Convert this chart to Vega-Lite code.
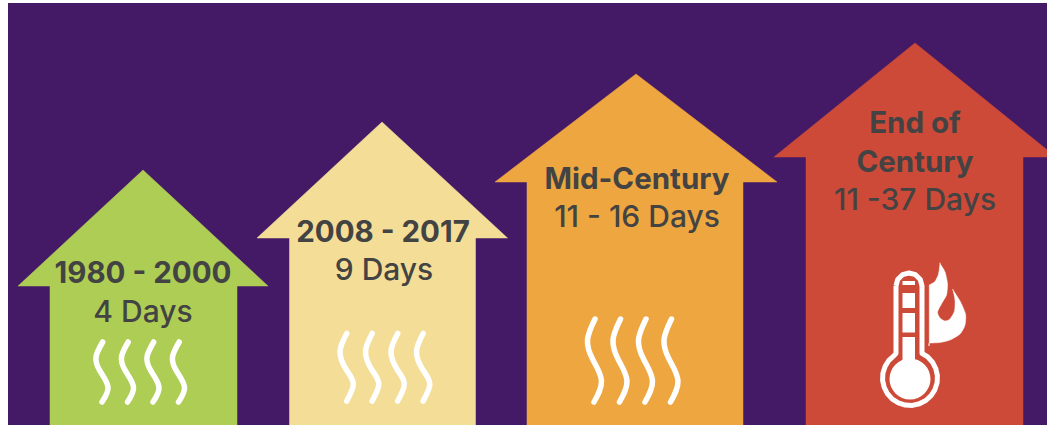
{
"$schema":"https://vega.github.io/schema/vega-lite/v6.json",
"width":1047,"height":425,"autosize":{"type":"none"},"padding":0,"background":"#ffffff",
"view":{"stroke":null},
"config":{"axis":{"disable":true}},
"encoding":{"x":{"type":"quantitative","scale":{"domain":[0,1047],"nice":false,"zero":false},"axis":null},
"y":{"type":"quantitative","scale":{"domain":[425,0],"nice":false,"zero":false},"axis":null}},
"layer":[
{"data":{"values":[{"x":8,"x2":1047,"y":3,"y2":425}]},"mark":{"type":"rect","color":"#441a66"},
 "encoding":{"x":{"field":"x","type":"quantitative"},"x2":{"field":"x2"},"y":{"field":"y","type":"quantitative"},"y2":{"field":"y2"}}},
{"data":{"values":[
{"a":"1980 - 2000","i":1,"x":18,"y":286},{"a":"1980 - 2000","i":2,"x":143,"y":170},{"a":"1980 - 2000","i":3,"x":268,"y":286},{"a":"1980 - 2000","i":4,"x":237,"y":286},{"a":"1980 - 2000","i":5,"x":237,"y":425},{"a":"1980 - 2000","i":6,"x":50,"y":425},{"a":"1980 - 2000","i":7,"x":50,"y":286},{"a":"1980 - 2000","i":8,"x":18,"y":286},
{"a":"2008 - 2017","i":1,"x":257,"y":238},{"a":"2008 - 2017","i":2,"x":382,"y":122},{"a":"2008 - 2017","i":3,"x":507.5,"y":238},{"a":"2008 - 2017","i":4,"x":475.5,"y":238},{"a":"2008 - 2017","i":5,"x":475.5,"y":425},{"a":"2008 - 2017","i":6,"x":289.5,"y":425},{"a":"2008 - 2017","i":7,"x":289.5,"y":238},{"a":"2008 - 2017","i":8,"x":257,"y":238},
{"a":"Mid-Century","i":1,"x":495,"y":182},{"a":"Mid-Century","i":2,"x":636,"y":74},{"a":"Mid-Century","i":3,"x":777,"y":182},{"a":"Mid-Century","i":4,"x":743,"y":182},{"a":"Mid-Century","i":5,"x":743,"y":425},{"a":"Mid-Century","i":6,"x":527,"y":425},{"a":"Mid-Century","i":7,"x":527,"y":182},{"a":"Mid-Century","i":8,"x":495,"y":182},
{"a":"End of Century","i":1,"x":774,"y":157},{"a":"End of Century","i":2,"x":915,"y":43},{"a":"End of Century","i":3,"x":1047,"y":149.8},{"a":"End of Century","i":4,"x":1047,"y":157},{"a":"End of Century","i":5,"x":1023,"y":157},{"a":"End of Century","i":6,"x":1023,"y":425},{"a":"End of Century","i":7,"x":806,"y":425},{"a":"End of Century","i":8,"x":806,"y":157},{"a":"End of Century","i":9,"x":774,"y":157}
]},"mark":{"type":"line","interpolate":"linear","strokeWidth":0.5},
 "encoding":{"x":{"field":"x","type":"quantitative"},"y":{"field":"y","type":"quantitative"},"order":{"field":"i","type":"quantitative"},
 "stroke":{"field":"a","type":"nominal","legend":null,"scale":{"domain":["1980 - 2000","2008 - 2017","Mid-Century","End of Century"],"range":["#aecd55","#f4de97","#eea640","#cd4a38"]}},
 "fill":{"field":"a","type":"nominal","legend":null,"scale":{"domain":["1980 - 2000","2008 - 2017","Mid-Century","End of Century"],"range":["#aecd55","#f4de97","#eea640","#cd4a38"]}}}},
{"data":{"values":[
{"w":"a1","i":1,"x":102.7,"y":342},{"w":"a1","i":2,"x":96,"y":357},{"w":"a1","i":3,"x":100,"y":371},{"w":"a1","i":4,"x":108,"y":387},{"w":"a1","i":5,"x":102,"y":402},
{"w":"a2","i":1,"x":128.2,"y":342},{"w":"a2","i":2,"x":121.5,"y":357},{"w":"a2","i":3,"x":125.5,"y":371},{"w":"a2","i":4,"x":133.5,"y":387},{"w":"a2","i":5,"x":127.5,"y":402},
{"w":"a3","i":1,"x":153.7,"y":342},{"w":"a3","i":2,"x":147,"y":357},{"w":"a3","i":3,"x":151,"y":371},{"w":"a3","i":4,"x":159,"y":387},{"w":"a3","i":5,"x":153,"y":402},
{"w":"a4","i":1,"x":179.2,"y":342},{"w":"a4","i":2,"x":172.5,"y":357},{"w":"a4","i":3,"x":176.5,"y":371},{"w":"a4","i":4,"x":184.5,"y":387},{"w":"a4","i":5,"x":178.5,"y":402},
{"w":"b1","i":1,"x":346.7,"y":333.5},{"w":"b1","i":2,"x":340,"y":352},{"w":"b1","i":3,"x":346.5,"y":370},{"w":"b1","i":4,"x":353.3,"y":384},{"w":"b1","i":5,"x":346.7,"y":401},
{"w":"b2","i":1,"x":372.2,"y":333.5},{"w":"b2","i":2,"x":365.5,"y":352},{"w":"b2","i":3,"x":372,"y":370},{"w":"b2","i":4,"x":378.8,"y":384},{"w":"b2","i":5,"x":372.2,"y":401},
{"w":"b3","i":1,"x":397.7,"y":333.5},{"w":"b3","i":2,"x":391,"y":352},{"w":"b3","i":3,"x":397.5,"y":370},{"w":"b3","i":4,"x":404.3,"y":384},{"w":"b3","i":5,"x":397.7,"y":401},
{"w":"b4","i":1,"x":423.2,"y":333.5},{"w":"b4","i":2,"x":416.5,"y":352},{"w":"b4","i":3,"x":423,"y":370},{"w":"b4","i":4,"x":429.8,"y":384},{"w":"b4","i":5,"x":423.2,"y":401},
{"w":"c1","i":1,"x":595,"y":319},{"w":"c1","i":2,"x":587.5,"y":340},{"w":"c1","i":3,"x":593,"y":360},{"w":"c1","i":4,"x":601.5,"y":381},{"w":"c1","i":5,"x":594,"y":402},
{"w":"c2","i":1,"x":620.5,"y":319},{"w":"c2","i":2,"x":613,"y":340},{"w":"c2","i":3,"x":618.5,"y":360},{"w":"c2","i":4,"x":627,"y":381},{"w":"c2","i":5,"x":619.5,"y":402},
{"w":"c3","i":1,"x":646,"y":319},{"w":"c3","i":2,"x":638.5,"y":340},{"w":"c3","i":3,"x":644,"y":360},{"w":"c3","i":4,"x":652.5,"y":381},{"w":"c3","i":5,"x":645,"y":402},
{"w":"c4","i":1,"x":671.5,"y":319},{"w":"c4","i":2,"x":664,"y":340},{"w":"c4","i":3,"x":669.5,"y":360},{"w":"c4","i":4,"x":678,"y":381},{"w":"c4","i":5,"x":670.5,"y":402}
]},"mark":{"type":"line","interpolate":"natural","color":"#ffffff","strokeWidth":5.5,"strokeCap":"round"},
 "encoding":{"x":{"field":"x","type":"quantitative"},"y":{"field":"y","type":"quantitative"},"order":{"field":"i","type":"quantitative"},"detail":{"field":"w"}}},
{"data":{"values":[
{"i":1,"x":896,"y":286},{"i":2,"x":897.7,"y":279.5},{"i":3,"x":902.5,"y":274.7},{"i":4,"x":909,"y":273},{"i":5,"x":915.5,"y":274.7},{"i":6,"x":920.3,"y":279.5},{"i":7,"x":922,"y":286},{"i":8,"x":922,"y":353.3},{"i":9,"x":927.7,"y":356.9},{"i":10,"x":932.5,"y":362.2},{"i":11,"x":935.8,"y":368.6},{"i":12,"x":937.4,"y":375.6},{"i":13,"x":937.1,"y":382.8},{"i":14,"x":934.9,"y":389.6},{"i":15,"x":931.1,"y":395.7},{"i":16,"x":925.8,"y":400.5},{"i":17,"x":919.4,"y":403.8},{"i":18,"x":912.4,"y":405.4},{"i":19,"x":905.2,"y":405.1},{"i":20,"x":898.4,"y":402.9},{"i":21,"x":892.3,"y":399.1},{"i":22,"x":887.5,"y":393.8},{"i":23,"x":884.2,"y":387.4},{"i":24,"x":882.6,"y":380.4},{"i":25,"x":882.9,"y":373.2},{"i":26,"x":885.1,"y":366.4},{"i":27,"x":888.9,"y":360.3},{"i":28,"x":894.2,"y":355.5},{"i":29,"x":896,"y":353.3},{"i":30,"x":896,"y":286}
]},"mark":{"type":"line","interpolate":"linear","color":"#ffffff","strokeWidth":5,"strokeJoin":"round"},
 "encoding":{"x":{"field":"x","type":"quantitative"},"y":{"field":"y","type":"quantitative"},"order":{"field":"i","type":"quantitative"}}},
{"data":{"values":[{"x":910,"y":379}]},"mark":{"type":"point","shape":"circle","filled":true,"color":"#ffffff","opacity":1,"size":1681},
 "encoding":{"x":{"field":"x","type":"quantitative"},"y":{"field":"y","type":"quantitative"}}},
{"data":{"values":[{"x":902.5,"x2":915,"y":293,"y2":308},{"x":902.5,"x2":915,"y":313,"y2":332.5},{"x":902.5,"x2":915,"y":337,"y2":365},{"x":902.5,"x2":915,"y":281,"y2":285}]},"mark":{"type":"rect","color":"#ffffff"},
 "encoding":{"x":{"field":"x","type":"quantitative"},"x2":{"field":"x2"},"y":{"field":"y","type":"quantitative"},"y2":{"field":"y2"}}},
{"data":{"values":[
{"i":1,"x":929.3,"y":285},{"i":2,"x":929.3,"y":285},{"i":3,"x":935,"y":281.5},{"i":4,"x":938.5,"y":274},{"i":5,"x":940,"y":263.5},{"i":6,"x":940,"y":263.5},{"i":7,"x":945,"y":272},{"i":8,"x":947.5,"y":284},{"i":9,"x":946.5,"y":295},{"i":10,"x":942,"y":303},{"i":11,"x":937.5,"y":312},{"i":12,"x":940,"y":318},{"i":13,"x":945,"y":321},{"i":14,"x":950,"y":319},{"i":15,"x":954.5,"y":311},{"i":16,"x":955,"y":300},{"i":17,"x":953,"y":290},{"i":18,"x":953,"y":290},{"i":19,"x":960,"y":301},{"i":20,"x":965.5,"y":314},{"i":21,"x":965,"y":325},{"i":22,"x":960,"y":334},{"i":23,"x":950,"y":340},{"i":24,"x":940,"y":342.5},{"i":25,"x":929.3,"y":343},{"i":26,"x":929.3,"y":343},{"i":27,"x":929.3,"y":285}
]},"mark":{"type":"line","interpolate":"cardinal","tension":0.3,"color":"#ffffff","fill":"#ffffff","strokeWidth":0.5},
 "encoding":{"x":{"field":"x","type":"quantitative"},"y":{"field":"y","type":"quantitative"},"order":{"field":"i","type":"quantitative"}}},
{"data":{"values":[
{"t":"1980 - 2000","x":143,"y":283},{"t":"2008 - 2017","x":383,"y":242},{"t":"Mid-Century","x":637,"y":189},{"t":"End of","x":915,"y":133},{"t":"Century","x":915,"y":171.5}
]},"mark":{"type":"text","font":"Inter","fontWeight":700,"fontSize":29.5,"color":"#434343","align":"center","baseline":"alphabetic"},
 "encoding":{"x":{"field":"x","type":"quantitative"},"y":{"field":"y","type":"quantitative"},"text":{"field":"t"}}},
{"data":{"values":[
{"t":"4 Days","x":143,"y":321.5},{"t":"9 Days","x":384,"y":280},{"t":"11 - 16 Days","x":637,"y":227},{"t":"11 -37 Days","x":915,"y":210}
]},"mark":{"type":"text","font":"Inter","fontWeight":500,"fontSize":30,"color":"#434343","align":"center","baseline":"alphabetic"},
 "encoding":{"x":{"field":"x","type":"quantitative"},"y":{"field":"y","type":"quantitative"},"text":{"field":"t"}}}
]}
